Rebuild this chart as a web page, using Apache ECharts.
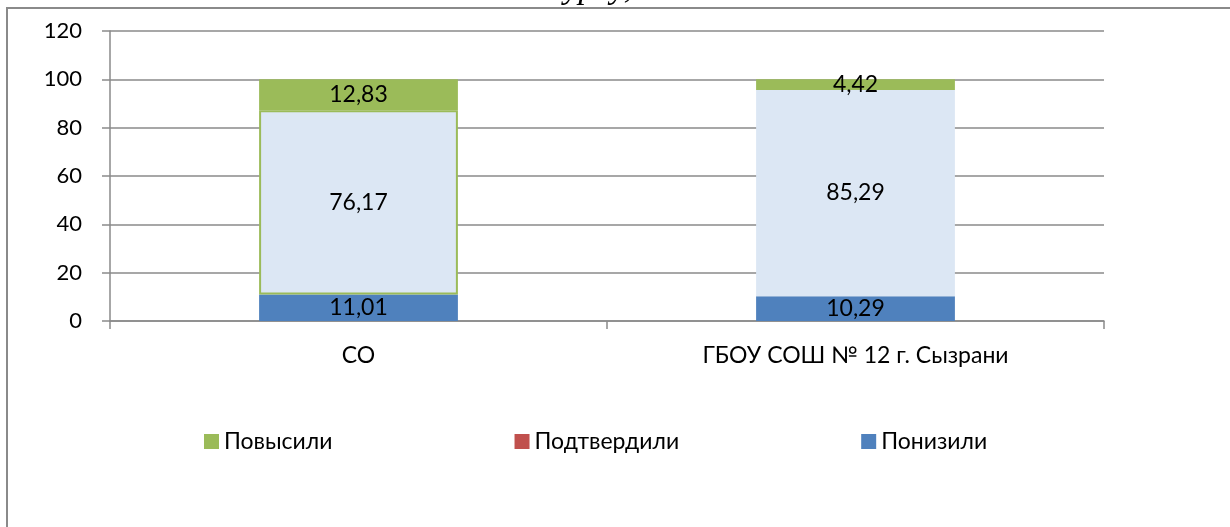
<!DOCTYPE html>
<html>
<head>
<meta charset="utf-8">
<script src="https://cdn.jsdelivr.net/npm/echarts@6/dist/echarts.min.js"></script>
<style>
  html, body { margin: 0; padding: 0; background: #fff; }
  #chart { width: 1230px; height: 527px; }
</style>
</head>
<body>
<div id="chart"></div>
<script>
// данные с диаграммы
var categories = ['СО', 'ГБОУ СОШ № 12 г. Сызрани'];
var lowered = [11.01, 10.29];     // Понизили
var confirmed = [76.17, 85.29];   // Подтвердили
var raised = [12.83, 4.42];       // Повысили
var yTicks = [0, 20, 40, 60, 80, 100, 120];

var FONT = 'Lato, "Noto Sans", sans-serif';

function fmt(p) {
    return String(p.value).replace('.', ',');
}

var chart = echarts.init(document.getElementById('chart'));

var labelStyle = {
    show: true,
    position: 'inside',
    color: '#000',
    fontFamily: FONT,
    fontSize: 23,
    formatter: fmt
};

var option = {
    animation: false,
    backgroundColor: '#fff',
    graphic: [
        {
            // рамка диаграммы
            type: 'rect',
            shape: { x: 7, y: 8, width: 1240, height: 540 },
            style: { fill: 'none', stroke: '#8a8a8a', lineWidth: 2 }
        },
        {
            // обрезанный заголовок сверху
            type: 'text',
            left: 548,
            top: -28,
            style: {
                text: 'курсу,',
                fontFamily: '"Liberation Serif", serif',
                fontStyle: 'italic',
                fontSize: 34,
                fill: '#000'
            }
        }
    ],
    grid: { left: 110, right: 126, top: 31, bottom: 206 },
    legend: {
        left: 204,
        top: 430,
        padding: 0,
        itemWidth: 15,
        itemHeight: 15,
        itemGap: 182,
        icon: 'rect',
        textStyle: { fontFamily: FONT, fontSize: 23, color: '#000' },
        data: [
            { name: 'Повысили', itemStyle: { color: '#9bbb59', borderWidth: 0 } },
            { name: 'Подтвердили', itemStyle: { color: '#c0504d', borderWidth: 0 } },
            { name: 'Понизили', itemStyle: { color: '#4f81bd', borderWidth: 0 } }
        ]
    },
    xAxis: {
        type: 'category',
        data: categories,
        axisLine: { lineStyle: { color: '#8a8a8a', width: 1.5 } },
        axisTick: { show: true, length: 8, lineStyle: { color: '#8a8a8a', width: 1.5 } },
        axisLabel: { color: '#000', fontFamily: FONT, fontSize: 23, margin: 23 }
    },
    yAxis: {
        type: 'value',
        min: yTicks[0],
        max: yTicks[yTicks.length - 1],
        interval: 20,
        axisLine: { show: true, lineStyle: { color: '#8a8a8a', width: 1.5 } },
        axisTick: { show: true, length: 8, lineStyle: { color: '#8a8a8a', width: 1.5 } },
        axisLabel: { color: '#000', fontFamily: FONT, fontSize: 22, margin: 28 },
        splitLine: { lineStyle: { color: '#8a8a8a', width: 1.5 } }
    },
    series: [
        {
            name: 'Понизили',
            type: 'bar',
            stack: 'total',
            barWidth: '40%',
            data: lowered,
            itemStyle: { color: '#4f81bd' },
            label: labelStyle
        },
        {
            name: 'Подтвердили',
            type: 'bar',
            stack: 'total',
            data: [
                { value: confirmed[0], itemStyle: { borderColor: '#9bbb59', borderWidth: 2 } },
                { value: confirmed[1] }
            ],
            itemStyle: { color: '#dce7f4' },
            label: labelStyle
        },
        {
            name: 'Повысили',
            type: 'bar',
            stack: 'total',
            data: raised,
            itemStyle: { color: '#9bbb59' },
            label: labelStyle
        }
    ]
};

chart.setOption(option);
</script>
</body>
</html>
